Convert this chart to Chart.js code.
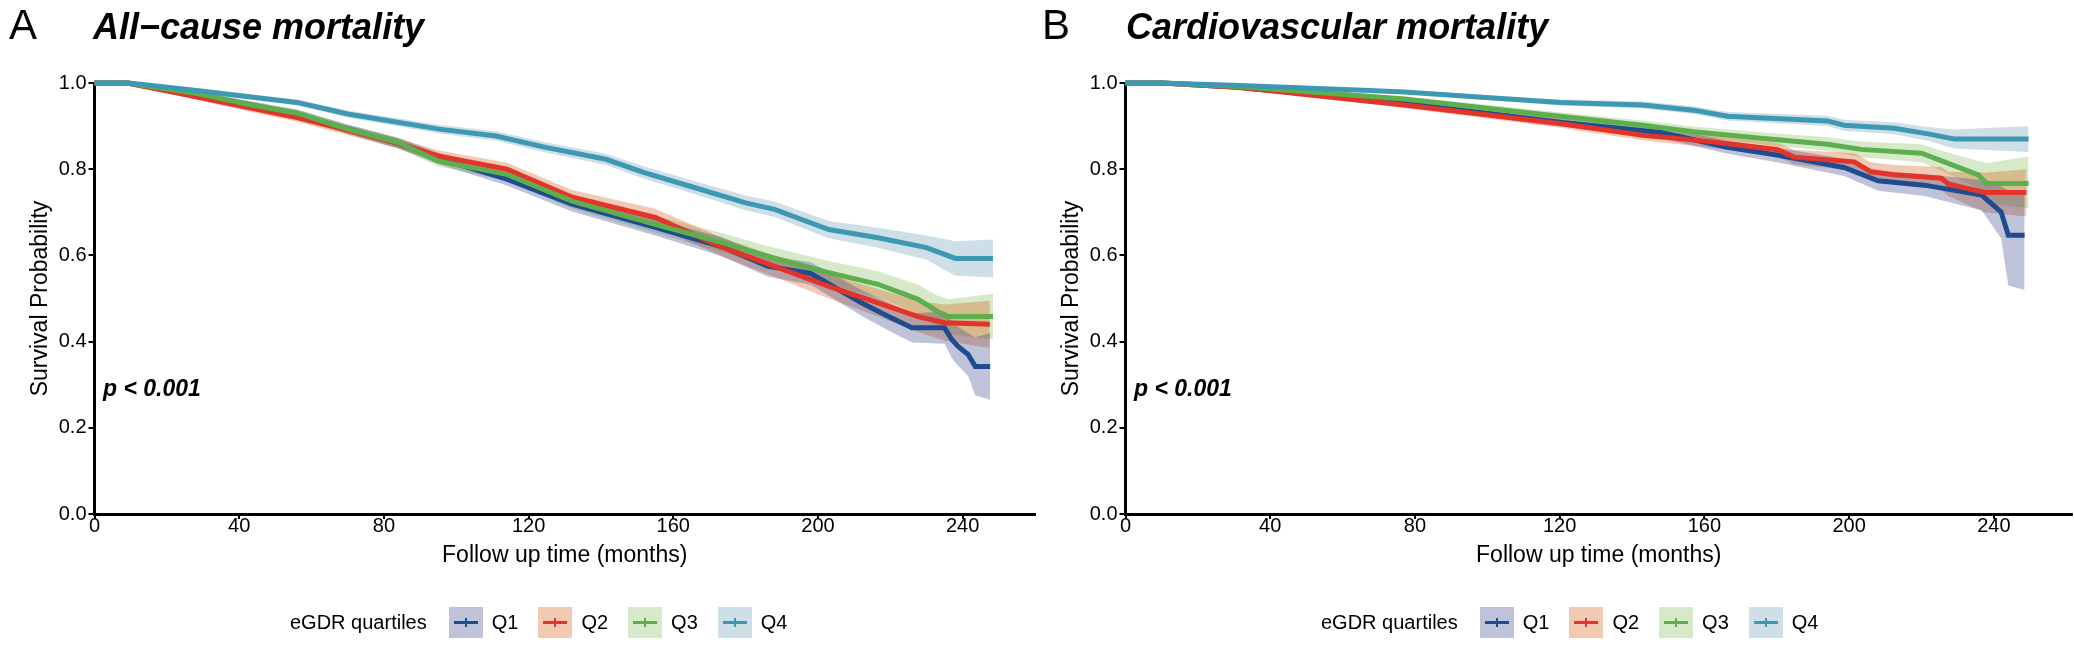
<!DOCTYPE html>
<html>
<head>
<meta charset="utf-8">
<script src="https://cdn.jsdelivr.net/npm/chart.js@4.4.1/dist/chart.umd.min.js"></script>
<style>
  body { margin: 0; background: #fff; }
  #wrap { position: relative; width: 2074px; height: 648px; overflow: hidden; font-family: "Liberation Sans", Arial, sans-serif; color: #000; }
  .panel { position: absolute; top: 0; height: 648px; }
  .panel canvas { position: absolute; left: 0; top: 0; }
  .tag { position: absolute; left: 9px; top: 4px; font-size: 42px; line-height: 42px; }
  .title { position: absolute; left: 93px; top: 9px; font-size: 36px; line-height: 36px; font-weight: bold; font-style: italic; white-space: nowrap; }
  .pval { position: absolute; left: 103px; top: 377px; font-size: 23px; line-height: 23px; font-weight: bold; font-style: italic; white-space: nowrap; }
  .legend { position: absolute; left: 290px; top: 607px; height: 31px; display: flex; align-items: center; font-size: 20px; white-space: nowrap; }
  .legend .ltitle { margin-right: 22px; }
  .legend .key { position: relative; width: 34px; height: 31px; }
  .legend .key .ln { position: absolute; left: 5px; right: 5px; top: 14px; height: 3px; }
  .legend .key .mk { position: absolute; left: 16px; top: 11px; width: 2px; height: 9px; }
  .legend .lab { margin-left: 9px; margin-right: 20px; }
</style>
</head>
<body>
<div id="wrap">
  <div class="panel" id="panelA" style="left:0px; width:1037px">
    <canvas id="acm" width="1037" height="648"></canvas>
    <div class="tag">A</div>
    <div class="title">All−cause mortality</div>
    <div class="pval">p &lt; 0.001</div>
    <div class="legend" id="legA"></div>
  </div>
  <div class="panel" id="panelB" style="left:1031px; width:1043px">
    <canvas id="cvm" width="1043" height="648"></canvas>
    <div class="tag" style="left:11px">B</div>
    <div class="title" style="left:95px">Cardiovascular mortality</div>
    <div class="pval">p &lt; 0.001</div>
    <div class="legend" id="legB"></div>
  </div>
</div>
<script>
// each point: [month, survival, lower CI, upper CI]
const quartiles = ['Q1', 'Q2', 'Q3', 'Q4'];
const xTicks = [0, 40, 80, 120, 160, 200, 240];
const yTicks = [0, 0.2, 0.4, 0.6, 0.8, 1.0];

// all-cause mortality
const acmQ1 = [[0,1,1,1],[9,1,1,1],[28.8,0.972,0.965,0.979],[42.6,0.95,0.942,0.958],[56,0.928,0.918,0.938],[70,0.893,0.882,0.904],[84,0.86,0.848,0.872],[95,0.825,0.812,0.838],[114,0.777,0.762,0.792],[132,0.719,0.702,0.736],[155,0.665,0.646,0.684],[173.5,0.62,0.598,0.642],[186,0.575,0.551,0.599],[198,0.558,0.532,0.584],[212,0.49,0.46,0.52],[219.5,0.458,0.426,0.49],[226,0.432,0.398,0.466],[235,0.432,0.395,0.469],[237,0.405,0.362,0.448],[238.6,0.39,0.345,0.435],[241.5,0.37,0.32,0.42],[243.5,0.342,0.275,0.41],[247.6,0.342,0.265,0.42]];
const acmQ2 = [[0,1,1,1],[9,1,1,1],[28.8,0.967,0.96,0.974],[42.6,0.943,0.934,0.952],[56,0.92,0.91,0.93],[70,0.89,0.879,0.901],[84,0.86,0.848,0.872],[95,0.831,0.818,0.844],[114,0.80,0.785,0.815],[132,0.735,0.718,0.752],[155,0.688,0.668,0.708],[173.5,0.619,0.597,0.641],[186,0.581,0.557,0.605],[203,0.528,0.5,0.556],[216.6,0.49,0.458,0.522],[227.7,0.458,0.422,0.494],[235,0.444,0.402,0.486],[247.5,0.44,0.385,0.495]];
const acmQ3 = [[0,1,1,1],[9,1,1,1],[28.8,0.975,0.969,0.981],[42.6,0.95,0.942,0.958],[56,0.93,0.921,0.939],[70,0.893,0.882,0.904],[84,0.862,0.85,0.874],[95,0.819,0.806,0.832],[114,0.788,0.773,0.803],[132,0.726,0.709,0.743],[155,0.672,0.652,0.692],[173.5,0.63,0.608,0.652],[186,0.598,0.574,0.622],[203,0.56,0.533,0.587],[216.6,0.533,0.503,0.563],[227.7,0.498,0.464,0.532],[233,0.47,0.433,0.507],[236,0.458,0.418,0.498],[248.4,0.458,0.405,0.511]];
const acmQ4 = [[0,1,1,1],[9.6,1,1,1],[28.8,0.982,0.977,0.987],[56,0.955,0.948,0.962],[70,0.928,0.92,0.936],[95.3,0.893,0.883,0.903],[111,0.877,0.866,0.888],[125,0.85,0.838,0.862],[141.4,0.823,0.81,0.836],[152,0.792,0.778,0.806],[166,0.757,0.742,0.772],[180,0.722,0.705,0.739],[188,0.707,0.689,0.725],[203,0.66,0.64,0.68],[216.6,0.641,0.618,0.664],[230,0.618,0.59,0.646],[238,0.593,0.553,0.633],[248.4,0.593,0.549,0.637]];

// cardiovascular mortality
const cvmQ1 = [[0,1,1,1],[10,1,1,1],[31,0.99,0.987,0.993],[77,0.953,0.946,0.96],[120,0.909,0.899,0.919],[148,0.885,0.872,0.898],[166.4,0.851,0.836,0.866],[180,0.833,0.816,0.85],[198.6,0.804,0.784,0.824],[208,0.773,0.75,0.796],[220.8,0.763,0.738,0.788],[236.6,0.74,0.705,0.775],[242,0.701,0.64,0.76],[244,0.647,0.53,0.75],[248.5,0.647,0.52,0.75]];
const cvmQ2 = [[0,1,1,1],[10,1,1,1],[31,0.99,0.987,0.993],[77,0.949,0.942,0.956],[120,0.906,0.896,0.916],[143,0.879,0.867,0.891],[161.8,0.864,0.85,0.878],[180.3,0.845,0.829,0.861],[184.8,0.828,0.811,0.845],[201.4,0.817,0.797,0.837],[206,0.794,0.772,0.816],[212.5,0.787,0.764,0.81],[225.5,0.779,0.753,0.805],[227.4,0.766,0.738,0.794],[237.4,0.746,0.7,0.792],[249,0.746,0.69,0.8]];
const cvmQ3 = [[0,1,1,1],[10,1,1,1],[31,0.992,0.989,0.995],[77,0.963,0.957,0.969],[120,0.923,0.914,0.932],[143,0.902,0.891,0.913],[157,0.887,0.875,0.899],[175.6,0.872,0.858,0.886],[194,0.858,0.842,0.874],[203.3,0.846,0.828,0.864],[220,0.837,0.816,0.858],[226.3,0.817,0.793,0.841],[235.7,0.787,0.755,0.819],[238,0.767,0.72,0.814],[249.6,0.767,0.71,0.83]];
const cvmQ4 = [[0,1,1,1],[10,1,1,1],[31.6,0.994,0.992,0.996],[64,0.984,0.98,0.988],[77,0.979,0.975,0.983],[120.2,0.955,0.948,0.962],[143,0.949,0.941,0.957],[157,0.937,0.928,0.946],[166.4,0.923,0.913,0.933],[194,0.912,0.9,0.924],[198.6,0.902,0.889,0.915],[212.5,0.895,0.881,0.909],[221.8,0.882,0.866,0.898],[229,0.87,0.848,0.892],[249.6,0.87,0.84,0.9]];

const lineColors = ['#1F4C8F', '#E2342A', '#5DAE4C', '#3D98B2'];
const bandColors = ['rgba(42,55,132,0.3)', 'rgba(212,75,2,0.3)', 'rgba(118,185,75,0.3)', 'rgba(95,148,175,0.3)'];
const keyColors = ['#BFC3DA', '#F2C9B3', '#D6EAC9', '#CFDFE7'];

const FONT = '"Liberation Sans", Arial, sans-serif';

function buildDatasets(series) {
    const out = [];
    series.forEach((pts, i) => {
        out.push({
            label: quartiles[i] + ' lower',
            data: pts.map(p => ({ x: p[0], y: p[2] })),
            borderWidth: 0, pointRadius: 0, fill: false,
            order: 20 + i,
        });
        out.push({
            label: quartiles[i] + ' upper',
            data: pts.map(p => ({ x: p[0], y: p[3] })),
            borderWidth: 0, pointRadius: 0,
            fill: '-1',
            backgroundColor: bandColors[i],
            order: 20 + i,
        });
        out.push({
            label: quartiles[i],
            data: pts.map(p => ({ x: p[0], y: p[1] })),
            borderColor: lineColors[i],
            borderWidth: 5,
            pointRadius: 0,
            fill: false,
            clip: false,
            order: 3 - i,
        });
    });
    return out;
}

function makeChart(id, series, xMax) {
    const ctx = document.getElementById(id).getContext("2d");
    return new Chart(ctx, {
        type: "line",
        data: { datasets: buildDatasets(series) },
        options: {
            responsive: false,
            animation: false,
            layout: { padding: { top: 83, right: 2, left: 0, bottom: 0 } },
            plugins: { legend: { display: false }, tooltip: { enabled: false } },
            elements: { line: { tension: 0 } },
            scales: {
                x: {
                    type: 'linear', min: 0, max: xMax,
                    afterFit: (s) => { s.height = 134; },
                    afterBuildTicks: (s) => { s.ticks = xTicks.map(v => ({ value: v })); },
                    ticks: { color: '#000', font: { family: FONT, size: 20, lineHeight: 0.7 }, padding: 0, maxRotation: 0, autoSkip: false },
                    grid: { drawOnChartArea: false, color: '#000', lineWidth: 2, tickLength: 5 },
                    border: { color: '#000', width: 3 },
                    title: { display: true, text: 'Follow up time (months)', color: '#000', font: { family: FONT, size: 23 }, padding: { top: 0, bottom: 79 } },
                },
                y: {
                    min: 0, max: 1,
                    afterFit: (s) => { s.width = 94.5; },
                    afterBuildTicks: (s) => { s.ticks = yTicks.map(v => ({ value: v })); },
                    ticks: { color: '#000', font: { family: FONT, size: 20 }, padding: 2, callback: (v) => Number(v).toFixed(1) },
                    grid: { drawOnChartArea: false, color: '#000', lineWidth: 2, tickLength: 6 },
                    border: { color: '#000', width: 3 },
                    title: { display: true, text: 'Survival Probability', color: '#000', font: { family: FONT, size: 23 }, padding: { top: 27, bottom: 0 } },
                },
            },
        },
    });
}

function buildLegend(id) {
    const el = document.getElementById(id);
    let html = '<span class="ltitle">eGDR quartiles</span>';
    quartiles.forEach((q, i) => {
        html += '<div class="key" style="background:' + keyColors[i] + '">' +
            '<div class="ln" style="background:' + lineColors[i] + '"></div>' +
            '<div class="mk" style="background:' + lineColors[i] + '"></div></div>' +
            '<span class="lab">' + q + '</span>';
    });
    el.innerHTML = html;
}

makeChart("acm", [acmQ1, acmQ2, acmQ3, acmQ4], 260);
makeChart("cvm", [cvmQ1, cvmQ2, cvmQ3, cvmQ4], 261.6);
buildLegend("legA");
buildLegend("legB");
</script>
</body>
</html>
